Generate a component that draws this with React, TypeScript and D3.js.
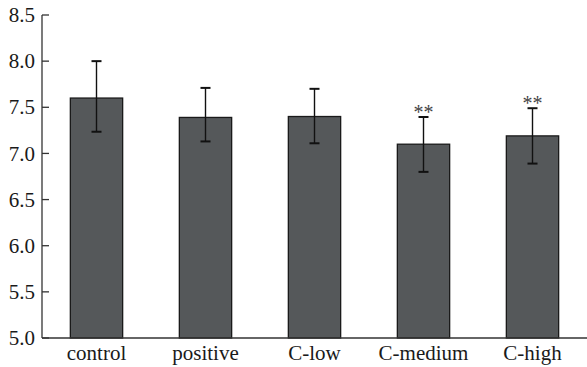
import * as d3 from 'd3';
import React from 'react';

const groups = ['control', 'positive', 'C-low', 'C-medium', 'C-high'];
const means = [7.6, 7.39, 7.4, 7.1, 7.19];
const upper = [8.0, 7.71, 7.7, 7.395, 7.49];
const lower = [7.235, 7.13, 7.11, 6.8, 6.89];
const marks = ['', '', '', '**', '**'];
const yTicks = [5.0, 5.5, 6.0, 6.5, 7.0, 7.5, 8.0, 8.5];

const width = 587;
const height = 367;
const left = 42;
const top = 15;
const bottom = 338;

export default function App() {
  const x = d3
    .scaleBand()
    .domain(groups)
    .range([left, width])
    .paddingInner(0.52)
    .paddingOuter(0.26);
  const y = d3.scaleLinear().domain([5, 8.5]).range([bottom, top]);
  const cap = 5;
  const font = '"Liberation Serif", "DejaVu Serif", serif';

  return (
    <svg
      width={width}
      height={height}
      style={{ position: 'absolute', left: 0, top: 0, background: '#fff' }}
    >
      {/* bars */}
      {groups.map((g, i) => (
        <rect
          key={g}
          x={x(g)}
          y={y(means[i])}
          width={x.bandwidth()}
          height={y(5) - y(means[i])}
          fill="#55585a"
          stroke="#1a1a1a"
          strokeWidth={1.3}
        />
      ))}
      {/* error bars */}
      {groups.map((g, i) => {
        const cx = (x(g) as number) + x.bandwidth() / 2;
        return (
          <g key={g + 'e'} stroke="#111" strokeWidth={1.4}>
            <line x1={cx} x2={cx} y1={y(upper[i])} y2={y(lower[i])} />
            <line x1={cx - cap} x2={cx + cap} y1={y(upper[i])} y2={y(upper[i])} strokeWidth={2} />
            <line x1={cx - cap} x2={cx + cap} y1={y(lower[i])} y2={y(lower[i])} strokeWidth={2} />
          </g>
        );
      })}
      {/* significance */}
      {groups.map((g, i) =>
        marks[i] ? (
          <text
            key={g + 's'}
            x={(x(g) as number) + x.bandwidth() / 2}
            y={y(upper[i]) + 2}
            textAnchor="middle"
            fontFamily={font}
            fontSize={20}
            fill="#444"
          >
            {marks[i]}
          </text>
        ) : null
      )}
      {/* axes */}
      <line x1={left} x2={left} y1={top} y2={bottom} stroke="#333" strokeWidth={1.3} />
      <line x1={left} x2={width} y1={bottom} y2={bottom} stroke="#333" strokeWidth={1.3} />
      {yTicks.map((t) => (
        <g key={t}>
          <line x1={left} x2={left + 7} y1={y(t)} y2={y(t)} stroke="#333" strokeWidth={1.3} />
          <text
            x={left - 7}
            y={y(t)}
            dy="0.34em"
            textAnchor="end"
            fontFamily={font}
            fontSize={21}
            fill="#1a1a1a"
          >
            {t.toFixed(1)}
          </text>
        </g>
      ))}
      {groups.map((g) => (
        <text
          key={g + 'l'}
          x={(x(g) as number) + x.bandwidth() / 2}
          y={360}
          textAnchor="middle"
          fontFamily={font}
          fontSize={21}
          fill="#1a1a1a"
        >
          {g}
        </text>
      ))}
    </svg>
  );
}
